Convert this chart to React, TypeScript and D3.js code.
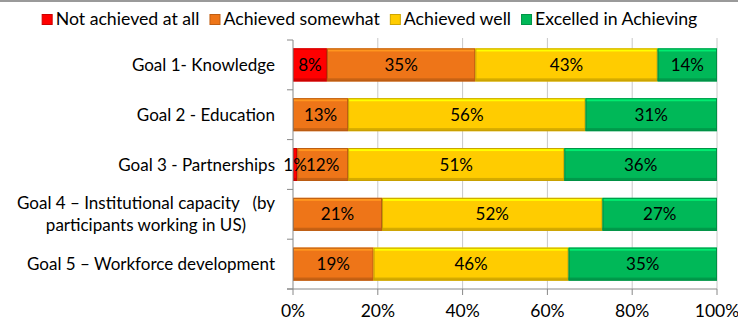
import React, { useEffect, useRef } from 'react';
import * as d3 from 'd3';

const categories = [
  'Goal 1- Knowledge',
  'Goal 2 - Education',
  'Goal 3 - Partnerships',
  'Goal 4 – Institutional capacity   (by\nparticipants working in US)',
  'Goal 5 – Workforce development',
];
const seriesNames = ['Not achieved at all', 'Achieved somewhat', 'Achieved well', 'Excelled in Achieving'];
const notAchieved = [8, 0, 1, 0, 0];
const somewhat = [35, 13, 12, 21, 19];
const well = [43, 56, 51, 52, 46];
const excelled = [14, 31, 36, 27, 35];
const xTicks = [0, 20, 40, 60, 80, 100];

const colors = ['#FF0000', '#EE7518', '#FFCC00', '#00B858'];
const FONT = 'Lato, "Open Sans", sans-serif';

const App = () => {
  const svgRef = useRef<SVGSVGElement>(null);

  useEffect(() => {
    document.body.style.margin = '0';
    const svg = d3.select(svgRef.current);
    svg.selectAll('*').remove();

    const W = 738;
    const x = d3.scaleLinear().domain([0, 100]).range([293, 717]);
    const y = d3.scaleBand().domain(categories).range([40, 289]);
    const barH = y.bandwidth() * 0.66;

    // top border line
    svg.append('rect').attr('x', 0).attr('y', 0).attr('width', W).attr('height', 2).attr('fill', '#9a9a9a');

    // gridlines
    svg.append('g').selectAll('line').data(xTicks.slice(1)).enter().append('line')
      .attr('x1', d => x(d)).attr('x2', d => x(d))
      .attr('y1', 38).attr('y2', 289)
      .attr('stroke', '#c8c8c8').attr('stroke-width', 1);

    // bars
    const series = [notAchieved, somewhat, well, excelled];
    const stack = categories.map((c, i) => {
      let acc = 0;
      return series.map((s, k) => {
        const seg = { cat: c, k, v: s[i], x0: acc, x1: acc + s[i] };
        acc += s[i];
        return seg;
      });
    }).flat().filter(d => d.v > 0);

    const bars = svg.append('g');
    stack.forEach(d => {
      const c = d3.color(colors[d.k])!;
      const x0 = x(d.x0), x1 = x(d.x1);
      const y0 = (y(d.cat) as number) + (y.bandwidth() - barH) / 2;
      const g = bars.append('g');
      g.append('rect').attr('x', x0).attr('y', y0).attr('width', x1 - x0).attr('height', barH)
        .attr('fill', colors[d.k]);
      // bevel: light top, dark bottom / sides
      g.append('rect').attr('x', x0).attr('y', y0).attr('width', x1 - x0).attr('height', 3)
        .attr('fill', c.brighter(0.7).toString());
      g.append('rect').attr('x', x0).attr('y', y0 + barH - 3).attr('width', x1 - x0).attr('height', 3)
        .attr('fill', c.darker(0.5).toString());
      g.append('rect').attr('x', x0 + 0.5).attr('y', y0 + 0.5).attr('width', Math.max(0, x1 - x0 - 1)).attr('height', barH - 1)
        .attr('fill', 'none').attr('stroke', c.darker(0.7).toString()).attr('stroke-width', 1);
    });

    // data labels
    svg.append('g').selectAll('text').data(stack).enter().append('text')
      .attr('x', d => x((d.x0 + d.x1) / 2))
      .attr('y', d => (y(d.cat) as number) + y.bandwidth() / 2 + 6)
      .attr('text-anchor', 'middle')
      .attr('font-family', FONT).attr('font-size', 17).attr('fill', '#000')
      .text(d => `${d.v}%`);

    // axes lines
    svg.append('line').attr('x1', 293).attr('x2', 293).attr('y1', 40).attr('y2', 289)
      .attr('stroke', '#888');
    svg.append('line').attr('x1', 287).attr('x2', 717).attr('y1', 289).attr('y2', 289)
      .attr('stroke', '#888');
    const bounds = categories.map(c => y(c) as number).concat([289]);
    svg.append('g').selectAll('line').data(bounds).enter().append('line')
      .attr('x1', 287).attr('x2', 293).attr('y1', d => d).attr('y2', d => d).attr('stroke', '#888');
    svg.append('g').selectAll('line').data(xTicks).enter().append('line')
      .attr('x1', d => x(d)).attr('x2', d => x(d)).attr('y1', 289).attr('y2', 295).attr('stroke', '#888');

    // x tick labels (cut at the bottom edge, as in the source)
    svg.append('g').selectAll('text').data(xTicks).enter().append('text')
      .attr('x', d => x(d)).attr('y', 317).attr('text-anchor', 'middle')
      .attr('font-family', FONT).attr('font-size', 17.5).attr('fill', '#000')
      .text(d => `${d}%`);

    // category labels
    categories.forEach(c => {
      const lines = c.split('\n');
      const cy = (y(c) as number) + y.bandwidth() / 2;
      const t = svg.append('text')
        .attr('font-family', FONT).attr('font-size', 17).attr('fill', '#000')
        .style('white-space', 'pre');
      if (lines.length === 1) {
        t.attr('x', 275).attr('y', cy + 6).attr('text-anchor', 'end').text(c);
      } else {
        // multi-line: right-aligned block, lines centered within it
        const tmp = svg.append('text').attr('font-family', FONT).attr('font-size', 17)
          .style('white-space', 'pre').text(lines[0]);
        const w = (tmp.node() as SVGTextElement).getComputedTextLength();
        tmp.remove();
        const mid = 275 - w / 2;
        t.attr('text-anchor', 'middle');
        lines.forEach((ln, i) => {
          t.append('tspan').attr('x', mid).attr('y', cy + 6 + (i - (lines.length - 1) / 2) * 22).text(ln);
        });
      }
    });

    // legend
    const leg = svg.append('g');
    let cx = 0;
    seriesNames.forEach((n, k) => {
      const c = d3.color(colors[k])!;
      const g = leg.append('g').attr('transform', `translate(${cx},0)`);
      g.append('rect').attr('x', 0.5).attr('y', 14.5).attr('width', 10).attr('height', 10)
        .attr('fill', colors[k]).attr('stroke', c.darker(0.6).toString());
      const t = g.append('text').attr('x', 14).attr('y', 25)
        .attr('font-family', FONT).attr('font-size', 17.7).attr('fill', '#000').text(n);
      cx += 14 + (t.node() as SVGTextElement).getComputedTextLength() + 10;
    });
    const total = cx - 10;
    leg.attr('transform', `translate(${369.5 - total / 2},0)`);
  }, []);

  return <svg ref={svgRef} width={738} height={318} style={{ display: 'block', background: '#fff' }} />;
};

export default App;
